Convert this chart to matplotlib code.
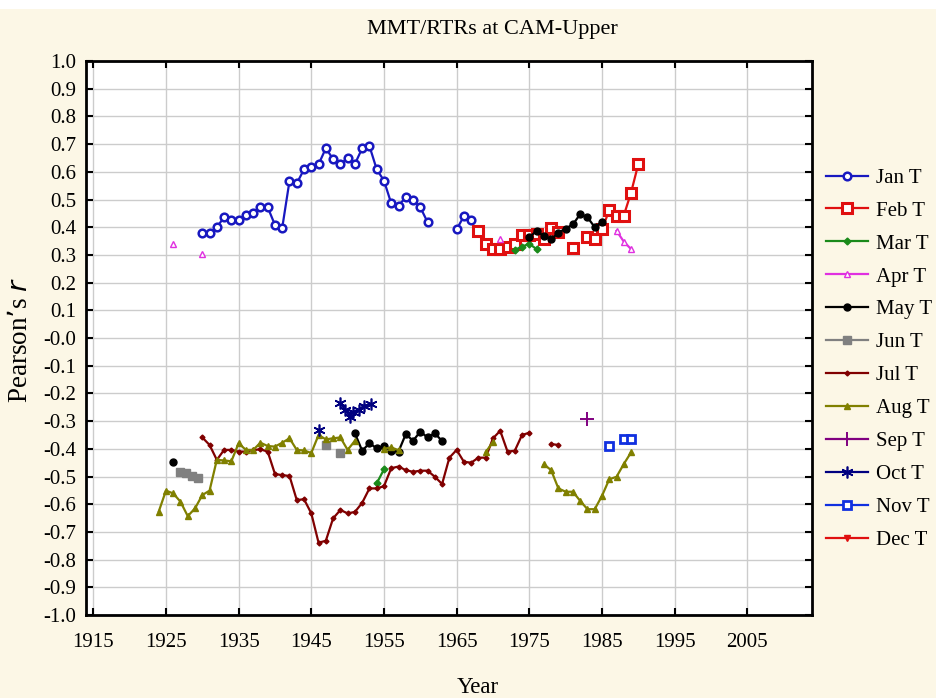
import numpy as np
import matplotlib
matplotlib.use("Agg")
import matplotlib.pyplot as plt

plt.rcParams.update({
    "font.family": "Liberation Serif",
    "font.size": 12,
})

nan = np.nan

# Pearson's r per month (nan breaks the line)
jan_yr = list(range(1930, 1962)) + [1962, 1965, 1966, 1967]
jan_r = [0.380, 0.380, 0.400, 0.436, 0.426, 0.426, 0.444, 0.452, 0.474, 0.472,
         0.408, 0.398, 0.567, 0.558, 0.609, 0.618, 0.627, 0.685, 0.646, 0.628,
         0.649, 0.628, 0.685, 0.693, 0.609, 0.568, 0.486, 0.478, 0.508, 0.498,
         0.472, 0.418, nan, 0.392, 0.440, 0.426]

feb_yr = list(range(1968, 1991))
feb_r = [0.386, 0.338, 0.320, 0.320, 0.330, 0.338, 0.372, 0.372, 0.375, 0.356,
         0.398, 0.382, nan, 0.324, nan, 0.364, 0.356, 0.392, 0.461, 0.442,
         0.442, 0.525, 0.628]

mar_yr = [1954, 1955, 1956, 1973, 1974, 1975, 1976]
mar_r = [-0.525, -0.474, nan, 0.318, 0.330, 0.340, 0.321]

apr_yr = [1926, 1927, 1930, 1931, 1971, 1972, 1987, 1988, 1989]
apr_r = [0.339, nan, 0.303, nan, 0.356, nan, 0.387, 0.348, 0.321]

may_yr = [1926, 1927] + list(range(1951, 1964)) + [1964] + list(range(1975, 1986))
may_r = [-0.449, nan,
         -0.344, -0.407, -0.380, -0.398, -0.390, -0.407, -0.410, -0.347, -0.371,
         -0.338, -0.359, -0.344, -0.372, nan,
         0.364, 0.386, 0.368, 0.356, 0.380, 0.395, 0.410, 0.447, 0.436, 0.400,
         0.420]

jun_yr = [1927, 1927.8, 1928.6, 1929.4, 1930, 1947, 1948, 1949]
jun_r = [-0.483, -0.488, -0.498, -0.506, nan, -0.386, nan, -0.416]

jul_yr = list(range(1930, 1976)) + [1976, 1978, 1979]
jul_r = [-0.359, -0.386, -0.440, -0.404, -0.404, -0.410, -0.410, -0.404, -0.402,
         -0.410, -0.491, -0.495, -0.498, -0.585, -0.582, -0.633, -0.739, -0.732,
         -0.651, -0.621, -0.633, -0.628, -0.595, -0.543, -0.543, -0.535, -0.470,
         -0.464, -0.477, -0.483, -0.479, -0.479, -0.501, -0.527, -0.432, -0.404,
         -0.447, -0.450, -0.432, -0.432, -0.362, -0.335, -0.410, -0.407, -0.350,
         -0.342, nan, -0.383, -0.386]

aug_yr = (list(range(1924, 1952)) + [1952, 1955, 1956, 1957, 1958, 1969, 1970, 1971]
          + list(range(1977, 1990)))
aug_r = [-0.627, -0.551, -0.561, -0.591, -0.643, -0.615, -0.567, -0.551, -0.440,
         -0.442, -0.445, -0.380, -0.404, -0.404, -0.378, -0.390, -0.392, -0.378,
         -0.362, -0.404, -0.406, -0.415, -0.350, -0.366, -0.362, -0.359, -0.404,
         -0.371, nan, -0.400, -0.395, -0.405, nan, -0.412, -0.375, nan,
         -0.456, -0.477, -0.543, -0.555, -0.555, -0.588, -0.618, -0.618, -0.570,
         -0.510, -0.501, -0.455, -0.413]

sep_yr = [1983]
sep_r = [-0.294]

oct_yr = [1946, 1947, 1949, 1949.7, 1950.3, 1950.8, 1951.5, 1952.2, 1953.2]
oct_r = [-0.331, nan, -0.236, -0.260, -0.284, -0.266, -0.260, -0.245, -0.238]

nov_yr = [1986, 1987, 1988, 1989]
nov_r = [-0.390, nan, -0.364, -0.364]

dec_yr = []
dec_r = []

labels = ["Jan T", "Feb T", "Mar T", "Apr T", "May T", "Jun T",
          "Jul T", "Aug T", "Sep T", "Oct T", "Nov T", "Dec T"]
series = [(jan_yr, jan_r), (feb_yr, feb_r), (mar_yr, mar_r), (apr_yr, apr_r),
          (may_yr, may_r), (jun_yr, jun_r), (jul_yr, jul_r), (aug_yr, aug_r),
          (sep_yr, sep_r), (oct_yr, oct_r), (nov_yr, nov_r), (dec_yr, dec_r)]

# colour, marker, size, face, edge width
styles = [
    ("#1818c0", "o", 5.5, "white", 1.8),
    ("#e01010", "s", 7.0, "white", 2.2),
    ("#1a8a1a", "D", 3.5, None, 1.0),
    ("#e030e0", "^", 5.0, "white", 1.0),
    ("#000000", "o", 5.0, None, 1.0),
    ("#808080", "s", 5.5, None, 1.0),
    ("#800000", "D", 2.5, None, 1.0),
    ("#808000", "^", 4.5, None, 1.0),
    ("#800080", "+", 10.0, None, 1.4),
    ("#000080", (6, 2, 0), 8.5, None, 1.2),
    ("#1030e0", "s", 6.0, "white", 2.0),
    ("#e01010", "v", 5.0, None, 1.0),
]

BG = "#fcf7e6"
fig = plt.figure(figsize=(9.37, 6.98), dpi=100, facecolor=BG)
fig.patches.append(plt.Rectangle((0, 1 - 9 / 698), 1, 9 / 698, transform=fig.transFigure,
                                 facecolor="white", edgecolor="none", zorder=0))
ax = fig.add_axes([0.0918, 0.1189, 0.7748, 0.7937])
ax.set_facecolor("white")

handles = []
for (yr, r), lab, (c, m, ms, mfc, mew) in zip(series, labels, styles):
    h, = ax.plot(yr, r, color=c, lw=1.6, marker=m, ms=ms,
                 mfc=mfc if mfc else c, mec=c, mew=mew, label=lab, zorder=3)
    handles.append(h)

ax.set_xlim(1914, 2013.9)
ax.set_ylim(-1.0, 1.0)
ax.set_xticks(np.arange(1915, 2006, 10))
yt = np.round(np.arange(-1.0, 1.01, 0.1), 1)
ax.set_yticks(yt)
ax.set_yticklabels([f"{v:.1f}" for v in yt])
ax.grid(True, color="#cccccc", lw=1.0, zorder=0)
ax.set_axisbelow(True)
ax.tick_params(direction="in", length=5, width=1.5, top=True, right=True,
               labelsize=15)
ax.tick_params(axis="x", pad=13)
ax.tick_params(axis="y", pad=7)
ax.tick_params(labeltop=False, labelright=False)
for s in ax.spines.values():
    s.set_linewidth(2.0)

fig.text(0.525, 0.958, "MMT/RTRs at CAM-Upper", ha="center", va="center", fontsize=16)
fig.text(0.510, 0.015, "Year", ha="center", va="center", fontsize=16.5)
fig.text(0.022, 0.513, "Pearson\u2019s $\\mathit{r}$", rotation=90, ha="center",
         va="center", fontsize=19.5)

fig.legend(handles=handles, labels=labels, loc="upper left",
           bbox_to_anchor=(0.882, 0.759), frameon=False, fontsize=15,
           handlelength=2.0, handletextpad=0.4, labelspacing=0.64,
           borderaxespad=0, borderpad=0)

fig.savefig("out.png", dpi=100, facecolor=BG)
